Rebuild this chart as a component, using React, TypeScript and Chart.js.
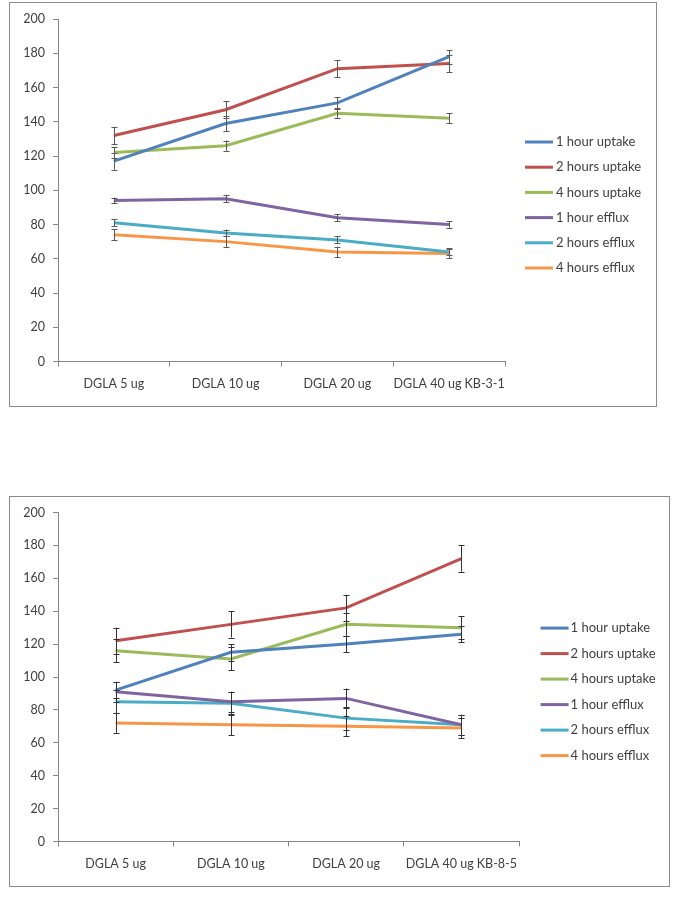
import React, { useEffect, useRef } from "react";
import { Chart, registerables } from "chart.js";

Chart.register(...registerables);

// ---- shared ----
const seriesNames = [
  "1 hour uptake",
  "2 hours uptake",
  "4 hours uptake",
  "1 hour efflux",
  "2 hours efflux",
  "4 hours efflux",
];
const seriesColors = ["#4F81BD", "#C0504D", "#9BBB59", "#8064A2", "#4BACC6", "#F79646"];
const yMin = 0;
const yMax = 200;
const yStep = 20;

// ---- chart 1 (KB-3-1) ----
const categories1 = ["DGLA 5 ug", "DGLA 10 ug", "DGLA 20 ug", "DGLA 40 ug KB-3-1"];
const c1Uptake1h = [117, 139, 151, 178];
const c1Uptake2h = [132, 147, 171, 174];
const c1Uptake4h = [122, 126, 145, 142];
const c1Efflux1h = [94, 95, 84, 80];
const c1Efflux2h = [81, 75, 71, 64];
const c1Efflux4h = [74, 70, 64, 63];
const c1Uptake1hErr = [5, 4.5, 3.5, 4];
const c1Uptake2hErr = [5, 5, 5, 5];
const c1Uptake4hErr = [3, 3, 3, 3];
const c1Efflux1hErr = [1.7, 2, 2, 2];
const c1Efflux2hErr = [2, 2, 2, 2];
const c1Efflux4hErr = [3.3, 3.3, 3, 2.7];

// ---- chart 2 (KB-8-5) ----
const categories2 = ["DGLA 5 ug", "DGLA 10 ug", "DGLA 20 ug", "DGLA 40 ug KB-8-5"];
const c2Uptake1h = [92, 115, 120, 126];
const c2Uptake2h = [122, 132, 142, 172];
const c2Uptake4h = [116, 111, 132, 130];
const c2Efflux1h = [91, 85, 87, 71];
const c2Efflux2h = [85, 84, 75, 71];
const c2Efflux4h = [72, 71, 70, 69];
const c2Uptake1hErr = [5, 5, 5, 5];
const c2Uptake2hErr = [8, 8, 8, 8];
const c2Uptake4hErr = [7, 7, 7, 7];
const c2Efflux1hErr = [6, 6, 6, 6];
const c2Efflux2hErr = [7, 7, 7, 6];
const c2Efflux4hErr = [6, 6.5, 6, 6];

const FONT_FAMILY = "Lato, 'Open Sans', sans-serif";
const TEXT_COLOR = "#404040";
const AXIS_COLOR = "#868686";

const errorBarPlugin = {
  id: "errorBars",
  afterDatasetsDraw(chart: any, _args: any, opts: any) {
    const { ctx } = chart;
    const xs = chart.scales.x;
    const ys = chart.scales.y;
    ctx.save();
    ctx.strokeStyle = opts.color || "#555";
    ctx.lineWidth = 1;
    chart.data.datasets.forEach((ds: any) => {
      const errs: number[] = ds.errors || [];
      (ds.data as number[]).forEach((v, i) => {
        const e = errs[i];
        if (e == null) return;
        const x = Math.round(xs.getPixelForValue(i)) + 0.5;
        const yt = ys.getPixelForValue(v + e);
        const yb = ys.getPixelForValue(v - e);
        const cap = 3;
        ctx.beginPath();
        ctx.moveTo(x, yt);
        ctx.lineTo(x, yb);
        ctx.moveTo(x - cap, Math.round(yt) + 0.5);
        ctx.lineTo(x + cap, Math.round(yt) + 0.5);
        ctx.moveTo(x - cap, Math.round(yb) + 0.5);
        ctx.lineTo(x + cap, Math.round(yb) + 0.5);
        ctx.stroke();
      });
    });
    ctx.restore();
  },
};

const seriesLegendPlugin = {
  id: "seriesLegend",
  afterDraw(chart: any, _args: any, opts: any) {
    const { ctx, chartArea } = chart;
    ctx.save();
    ctx.font = `${opts.fontSize}px ${FONT_FAMILY}`;
    ctx.textBaseline = "middle";
    ctx.textAlign = "left";
    chart.data.datasets.forEach((ds: any, i: number) => {
      const y = chartArea.top + opts.dy + i * opts.pitch;
      const x = chartArea.right + opts.dx;
      ctx.strokeStyle = ds.borderColor;
      ctx.lineWidth = 3;
      ctx.beginPath();
      ctx.moveTo(x, y);
      ctx.lineTo(x + opts.lineLen, y);
      ctx.stroke();
      ctx.fillStyle = TEXT_COLOR;
      ctx.fillText(ds.label, x + opts.lineLen + opts.gap, y);
    });
    ctx.restore();
  },
};

type Area = { left: number; right: number; top: number; bottom: number };

function LineChart(props: {
  categories: string[];
  values: number[][];
  errors: number[][];
  errColor: string;
  width: number;
  height: number;
  area: Area;
  legend: { dx: number; dy: number; pitch: number; lineLen: number; gap: number; fontSize: number };
}) {
  const ref = useRef<HTMLCanvasElement>(null);
  useEffect(() => {
    const { categories, values, errors, errColor, width, height, area, legend } = props;
    const font = { family: FONT_FAMILY, size: 12.5 };
    const chart = new Chart(ref.current as HTMLCanvasElement, {
      type: "line",
      data: {
        labels: categories,
        datasets: seriesNames.map((name, i) => ({
          label: name,
          data: values[i],
          errors: errors[i],
          borderColor: seriesColors[i],
          backgroundColor: seriesColors[i],
          borderWidth: 3,
          pointRadius: 0,
          pointHoverRadius: 0,
          tension: 0,
          fill: false,
        })) as any,
      },
      options: {
        responsive: false,
        maintainAspectRatio: false,
        animation: false,
        events: [],
        layout: { padding: { left: 0, top: area.top, right: width - area.right, bottom: 0 } },
        plugins: {
          legend: { display: false },
          tooltip: { enabled: false },
          errorBars: { color: errColor },
          seriesLegend: legend,
        } as any,
        scales: {
          x: {
            offset: true,
            grid: {
              offset: true,
              drawOnChartArea: false,
              drawTicks: true,
              tickLength: 5,
              color: AXIS_COLOR,
            },
            border: { display: true, color: AXIS_COLOR },
            ticks: { font, color: TEXT_COLOR, padding: 10, maxRotation: 0, autoSkip: false },
            afterFit: (s: any) => {
              s.height = height - area.bottom;
            },
          },
          y: {
            min: yMin,
            max: yMax,
            grid: { drawOnChartArea: false, drawTicks: true, tickLength: 5, color: AXIS_COLOR },
            border: { display: true, color: AXIS_COLOR },
            ticks: { stepSize: yStep, font, color: TEXT_COLOR, padding: 8 },
            afterFit: (s: any) => {
              s.width = area.left;
            },
          },
        },
      } as any,
      plugins: [errorBarPlugin, seriesLegendPlugin],
    });
    return () => chart.destroy();
  }, []);
  return (
    <canvas
      ref={ref}
      width={props.width}
      height={props.height}
      style={{ display: "block", width: props.width, height: props.height }}
    />
  );
}

export default function App() {
  return (
    <div style={{ position: "absolute", left: 0, top: 0, width: 685, height: 903, background: "#fff" }}>
      <div
        style={{
          position: "absolute",
          left: 9,
          top: 2,
          width: 648,
          height: 405,
          border: "1px solid #8c8c8c",
          boxSizing: "border-box",
        }}
      >
        <LineChart
          categories={categories1}
          values={[c1Uptake1h, c1Uptake2h, c1Uptake4h, c1Efflux1h, c1Efflux2h, c1Efflux4h]}
          errors={[c1Uptake1hErr, c1Uptake2hErr, c1Uptake4hErr, c1Efflux1hErr, c1Efflux2hErr, c1Efflux4hErr]}
          errColor="#5a5a5a"
          width={646}
          height={403}
          area={{ left: 48, right: 495, top: 16, bottom: 358.5 }}
          legend={{ dx: 20, dy: 123, pitch: 25.2, lineLen: 28, gap: 3, fontSize: 13 }}
        />
      </div>
      <div
        style={{
          position: "absolute",
          left: 9,
          top: 496,
          width: 661,
          height: 391,
          border: "1px solid #8c8c8c",
          boxSizing: "border-box",
        }}
      >
        <LineChart
          categories={categories2}
          values={[c2Uptake1h, c2Uptake2h, c2Uptake4h, c2Efflux1h, c2Efflux2h, c2Efflux4h]}
          errors={[c2Uptake1hErr, c2Uptake2hErr, c2Uptake4hErr, c2Efflux1hErr, c2Efflux2hErr, c2Efflux4hErr]}
          errColor="#333333"
          width={659}
          height={389}
          area={{ left: 48, right: 509, top: 14.7, bottom: 344.5 }}
          legend={{ dx: 21.6, dy: 115.6, pitch: 25.5, lineLen: 28, gap: 2, fontSize: 13 }}
        />
      </div>
    </div>
  );
}
